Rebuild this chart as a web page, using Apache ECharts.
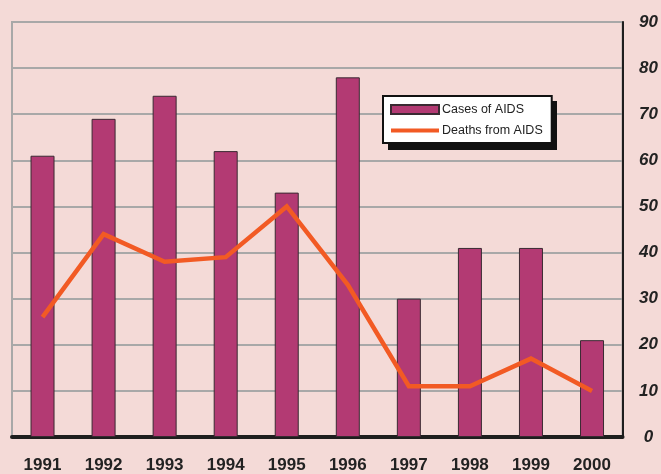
<!DOCTYPE html>
<html>
<head>
<meta charset="utf-8">
<title>Cases of AIDS / Deaths from AIDS</title>
<script src="https://cdn.jsdelivr.net/npm/echarts@6/dist/echarts.min.js"></script>
<style>
  html, body { margin: 0; padding: 0; background: #f4dad7; }
  #chart { width: 661px; height: 474px; }
</style>
</head>
<body>
<div id="chart"></div>
<script>
const years = ['1991', '1992', '1993', '1994', '1995', '1996', '1997', '1998', '1999', '2000']
const casesOfAids = [61, 69, 74, 62, 53, 78, 30, 41, 41, 21]
const deathsFromAids = [26, 44, 38, 39, 50, 33, 11, 11, 17, 10]
const yTicks = [0, 10, 20, 30, 40, 50, 60, 70, 80, 90]

const barColor = '#b33a73'
const lineColor = '#f25a24'
const textColor = '#222'
const font = '"Liberation Sans", Arial, sans-serif'

// legend box (the shadow is a plain rect drawn behind it)
const legendBox = { left: 383, top: 96, width: 169, height: 49, shadow: 5 }

const chart = echarts.init(document.getElementById('chart'))

chart.setOption({
  backgroundColor: '#f4dad7',
  animation: false,
  grid: {
    left: 12,
    right: 37,
    top: 22,
    bottom: 37,
    show: true,
    borderColor: '#a8a8a8',
    borderWidth: 2,
    backgroundColor: 'transparent'
  },
  graphic: [{
    type: 'rect',
    z: 3,
    silent: true,
    shape: {
      x: legendBox.left + legendBox.shadow,
      y: legendBox.top + legendBox.shadow,
      width: legendBox.width,
      height: legendBox.height
    },
    style: { fill: '#111' }
  }],
  legend: {
    orient: 'vertical',
    left: legendBox.left,
    top: legendBox.top,
    z: 4,
    padding: [7, 9, 6, 7],
    itemWidth: 48,
    itemHeight: 9,
    itemGap: 8,
    backgroundColor: '#fff',
    borderColor: '#111',
    borderWidth: 2,
    borderRadius: 0,
    textStyle: {
      color: textColor,
      fontFamily: font,
      fontSize: 12.5,
      padding: [0, 0, 0, -2]
    },
    data: [
      { name: 'Cases of AIDS', icon: 'rect' },
      {
        name: 'Deaths from AIDS',
        icon: 'path://M0,0H48V4H0Z',
        itemStyle: { color: lineColor, borderWidth: 0 }
      }
    ]
  },
  xAxis: {
    type: 'category',
    data: years,
    axisLine: {
      lineStyle: { color: '#1e1e1e', width: 4 }
    },
    axisTick: { show: false },
    axisLabel: {
      color: textColor,
      fontFamily: font,
      fontWeight: 'bold',
      fontSize: 17,
      margin: 20
    }
  },
  yAxis: {
    type: 'value',
    position: 'right',
    min: yTicks[0],
    max: yTicks[yTicks.length - 1],
    interval: yTicks[1] - yTicks[0],
    axisLine: {
      show: true,
      lineStyle: { color: '#1e1e1e', width: 2 }
    },
    axisTick: { show: false },
    axisLabel: {
      color: textColor,
      fontFamily: font,
      fontWeight: 'bold',
      fontStyle: 'italic',
      fontSize: 17,
      align: 'center',
      margin: 26
    },
    splitLine: {
      lineStyle: { color: '#a8a8a8', width: 2 }
    }
  },
  series: [
    {
      name: 'Cases of AIDS',
      type: 'bar',
      data: casesOfAids,
      barWidth: 24,
      itemStyle: {
        color: barColor,
        borderColor: '#3a2a32',
        borderWidth: 1
      }
    },
    {
      name: 'Deaths from AIDS',
      type: 'line',
      data: deathsFromAids,
      symbol: 'none',
      z: 5,
      lineStyle: {
        color: lineColor,
        width: 4.5,
        join: 'miter',
        cap: 'butt'
      },
      itemStyle: { color: lineColor }
    }
  ]
})
</script>
</body>
</html>
